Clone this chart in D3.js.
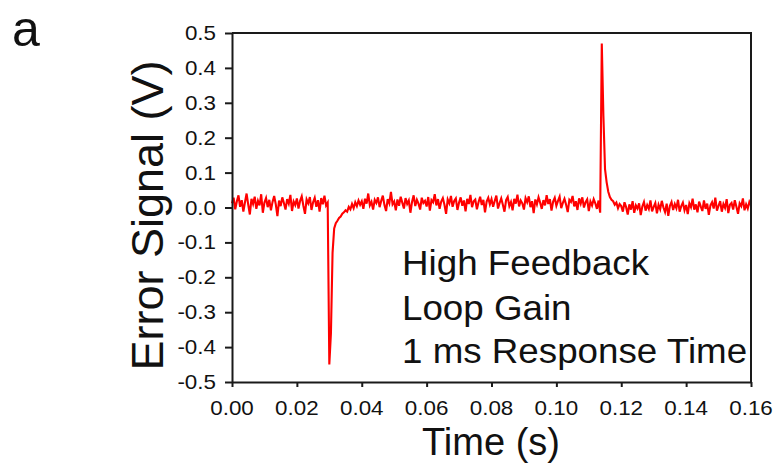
<!DOCTYPE html>
<html>
<head>
<meta charset="utf-8">
<script src="https://cdn.jsdelivr.net/npm/d3@7"></script>
<style>
  html, body { margin: 0; padding: 0; background: #fff; }
  svg { display: block; }
  text { font-family: "Liberation Sans", Arial, sans-serif; fill: #111; }
</style>
</head>
<body>
<svg id="chart" width="776" height="468"></svg>
<script>
// ---- data ----
const timeStep = 0.0005; // s between samples
const errorSignal = [
  0.012, 0.028, -0.005, 0.018, 0.035, 0.002, 0.021, -0.012, 0.015, 0.040, 0.008, -0.020, 0.025, 0.010, 0.031, -0.004, 0.019, 0.006, 0.038, -0.015,
  0.014, 0.027, 0.001, 0.022, -0.008, 0.016, 0.033, 0.009, -0.025, 0.020, 0.004, 0.029, 0.013, -0.006, 0.024, 0.011, 0.036, -0.010, 0.017, 0.007,
  0.026, -0.003, 0.019, 0.032, 0.005, -0.018, 0.023, 0.012, 0.030, -0.007, 0.015, 0.028, 0.002, 0.021, -0.012, 0.027, 0.009, 0.034, 0.006, 0.014,
  -0.450, -0.360, -0.130, -0.060, -0.045, -0.038, -0.030, -0.026, -0.018, -0.014, -0.008, -0.012, 0.002, -0.005, 0.010, -0.002, 0.015, 0.004, 0.020, 0.008,
  0.018, -0.004, 0.025, 0.011, 0.040, 0.006, 0.016, -0.006, 0.022, 0.013, 0.029, 0.001, 0.019, 0.034, 0.007, -0.010, 0.024, 0.012, 0.045, 0.009,
  0.017, -0.008, 0.023, 0.005, 0.031, 0.014, -0.003, 0.027, 0.010, 0.020, -0.015, 0.016, 0.035, 0.004, 0.022, 0.011, -0.006, 0.028, 0.013, 0.019,
  0.003, 0.030, -0.009, 0.021, 0.015, 0.038, 0.006, 0.024, -0.004, 0.017, 0.027, 0.008, -0.018, 0.023, 0.012, 0.033, 0.002, 0.019, 0.026, -0.007,
  0.014, 0.029, 0.005, 0.020, -0.011, 0.025, 0.010, 0.036, 0.001, 0.018, 0.023, -0.005, 0.015, 0.031, 0.007, 0.022, -0.014, 0.017, 0.028, 0.009,
  0.024, 0.002, 0.019, 0.034, -0.003, 0.013, 0.026, 0.008, -0.012, 0.021, 0.030, 0.004, 0.016, -0.008, 0.025, 0.011, 0.037, 0.003, 0.020, 0.012,
  -0.006, 0.027, 0.015, 0.032, 0.001, 0.018, -0.016, 0.023, 0.009, 0.029, 0.014, -0.004, 0.021, 0.006, 0.035, 0.010, 0.024, -0.009, 0.017, 0.028,
  0.005, 0.019, 0.031, -0.002, 0.013, 0.025, 0.008, -0.013, 0.022, 0.016, 0.033, 0.003, 0.018, -0.007, 0.026, 0.011, 0.029, 0.000, 0.015, 0.023,
  -0.010, 0.017, 0.006, 0.024, 0.012, -0.004, 0.020, -0.015, 0.470, 0.262, 0.110, 0.072, 0.045, 0.030, 0.022, 0.018, 0.008, 0.014, -0.002, 0.010,
  0.004, -0.012, 0.015, 0.001, -0.020, 0.009, -0.006, 0.018, -0.015, 0.006, -0.003, 0.012, -0.022, 0.003, 0.016, -0.009, 0.007, -0.004, 0.020, -0.011,
  0.002, 0.013, -0.017, 0.008, -0.005, 0.019, 0.000, -0.013, 0.011, -0.024, 0.005, 0.016, -0.007, 0.010, -0.002, 0.022, -0.012, 0.004, 0.014, -0.008,
  0.007, -0.019, 0.012, 0.001, 0.025, -0.006, 0.009, -0.014, 0.017, 0.003, -0.010, 0.020, -0.004, 0.011, -0.021, 0.006, 0.015, -0.003, 0.028, -0.009,
  0.005, 0.018, -0.012, 0.010, -0.001, 0.024, -0.016, 0.008, 0.013, -0.006, 0.021, 0.002, -0.018, 0.012, 0.004, 0.026, -0.008, 0.009, -0.003, 0.016,
  0.006
];
const xTickValues = [0, 0.02, 0.04, 0.06, 0.08, 0.10, 0.12, 0.14, 0.16];
const xTickLabels = ["0.00", "0.02", "0.04", "0.06", "0.08", "0.10", "0.12", "0.14", "0.16"];
const yTickValues = [0.5, 0.4, 0.3, 0.2, 0.1, 0.0, -0.1, -0.2, -0.3, -0.4, -0.5];
const yTickLabels = ["0.5", "0.4", "0.3", "0.2", "0.1", "0.0", "-0.1", "-0.2", "-0.3", "-0.4", "-0.5"];
const panelLabel = "a";
const xTitle = "Time (s)";
const yTitle = "Error Signal (V)";
const noteLines = ["High Feedback", "Loop Gain", "1 ms Response Time"];

// ---- layout ----
const svg = d3.select("#chart");
const L = 232, R = 751, T = 33, B = 382;
const x = d3.scaleLinear().domain([0, 0.16]).range([L, R]);
const y = d3.scaleLinear().domain([-0.5, 0.5]).range([B, T]);

const points = errorSignal.map((v, i) => [i * timeStep, v]);

// trace
svg.append("path")
  .datum(points)
  .attr("fill", "none")
  .attr("stroke", "#ff0000")
  .attr("stroke-width", 2.1)
  .attr("stroke-linejoin", "miter")
  .attr("d", d3.line().x(d => x(d[0])).y(d => y(d[1])));

// frame (top & right)
const axisColor = "#1a1a1a";
svg.append("path")
  .attr("d", `M${L},${T}H${R}V${B}`)
  .attr("fill", "none").attr("stroke", axisColor).attr("stroke-width", 2);

// axes
const xAxis = svg.append("g").attr("transform", `translate(0,${B})`)
  .call(d3.axisBottom(x).tickValues(xTickValues).tickSize(5).tickSizeOuter(0).tickFormat(() => ""));
const yAxis = svg.append("g").attr("transform", `translate(${L},0)`)
  .call(d3.axisLeft(y).tickValues(yTickValues).tickSize(7).tickSizeOuter(0).tickFormat(() => ""));
[xAxis, yAxis].forEach(g => {
  g.selectAll("path, line").attr("stroke", axisColor).attr("stroke-width", 2);
});

// tick labels (horizontally stretched, like the reference)
const tickFont = 20, tickStretch = 1.12;
xTickValues.forEach((v, i) => {
  svg.append("text")
    .attr("transform", `translate(${x(v)},415) scale(${tickStretch},1)`)
    .attr("text-anchor", "middle")
    .attr("font-size", tickFont)
    .text(xTickLabels[i]);
});
yTickValues.forEach((v, i) => {
  svg.append("text")
    .attr("transform", `translate(216,${y(v) + 7}) scale(${tickStretch},1)`)
    .attr("text-anchor", "end")
    .attr("font-size", tickFont)
    .text(yTickLabels[i]);
});

// titles
svg.append("text")
  .attr("transform", `translate(163,${(T + B) / 2 + 8}) rotate(-90)`)
  .attr("text-anchor", "middle")
  .attr("font-size", 45)
  .text(yTitle);
svg.append("text")
  .attr("transform", `translate(491,455)`)
  .attr("text-anchor", "middle")
  .attr("font-size", 38)
  .text(xTitle);

// panel label
svg.append("text")
  .attr("x", 12).attr("y", 45.5)
  .attr("font-size", 50)
  .text(panelLabel);

// annotation
const noteBaselines = [275, 320, 363];
noteLines.forEach((s, i) => {
  svg.append("text")
    .attr("transform", `translate(402,${noteBaselines[i]}) scale(1.05,1)`)
    .attr("font-size", 35)
    .text(s);
});
</script>
</body>
</html>
